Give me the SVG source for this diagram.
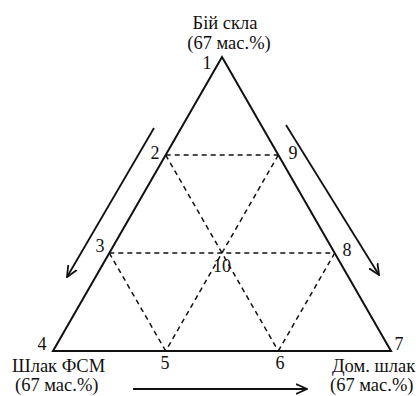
<svg xmlns="http://www.w3.org/2000/svg" width="419" height="396" viewBox="0 0 419 396">
<style>
text{font-family:"Liberation Serif","Times New Roman",serif;font-size:18px;fill:#111}
.lbl{font-size:18.5px}
.tri{fill:none;stroke:#111;stroke-width:2;stroke-linejoin:miter}
.dash{stroke:#111;stroke-width:1.5;stroke-dasharray:5,4;fill:none}
.arr{stroke:#111;stroke-width:1.8;fill:none;marker-end:url(#ah)}
</style>
<defs>
<marker id="ah" viewBox="0 0 12 12" refX="11" refY="6" markerWidth="12" markerHeight="12" markerUnits="userSpaceOnUse" orient="auto">
<path d="M0,1 L11,6 L0,11" fill="none" stroke="#111" stroke-width="1.8"/>
</marker>
</defs>
<g id="connectors">
<polygon class="tri" points="222,57 53,351 391,351"/>
<line class="dash" x1="165.7" y1="155" x2="278.3" y2="155"/>
<line class="dash" x1="109.3" y1="253" x2="334.7" y2="253"/>
<line class="dash" x1="165.7" y1="155" x2="278.3" y2="351"/>
<line class="dash" x1="278.3" y1="155" x2="165.7" y2="351"/>
<line class="dash" x1="109.3" y1="253" x2="165.7" y2="351"/>
<line class="dash" x1="334.7" y1="253" x2="278.3" y2="351"/>
<line class="arr" x1="154" y1="128" x2="67" y2="277"/>
<line class="arr" x1="286" y1="125" x2="379" y2="275"/>
<line class="arr" x1="133" y1="389" x2="307" y2="389"/>
</g>
<g id="node1"><text class="lbl" x="225" y="29" text-anchor="middle">Бій скла</text><text class="lbl" x="229" y="49" text-anchor="middle">(67 мас.%)</text><text x="207" y="69" text-anchor="middle">1</text></g>
<g id="node2"><text x="155" y="159" text-anchor="middle">2</text></g>
<g id="node3"><text x="100" y="252" text-anchor="middle">3</text></g>
<g id="node4"><text x="42" y="350" text-anchor="middle">4</text><text class="lbl" x="12" y="372">Шлак ФСМ</text><text class="lbl" x="15" y="391">(67 мас.%)</text></g>
<g id="node5"><text x="165" y="369" text-anchor="middle">5</text></g>
<g id="node6"><text x="280" y="369" text-anchor="middle">6</text></g>
<g id="node7"><text x="399" y="350" text-anchor="middle">7</text><text class="lbl" x="332" y="372">Дом. шлак</text><text class="lbl" x="330" y="391">(67 мас.%)</text></g>
<g id="node8"><text x="347" y="256" text-anchor="middle">8</text></g>
<g id="node9"><text x="293" y="159" text-anchor="middle">9</text></g>
<g id="node10"><text x="222" y="272" text-anchor="middle">10</text></g>
</svg>
